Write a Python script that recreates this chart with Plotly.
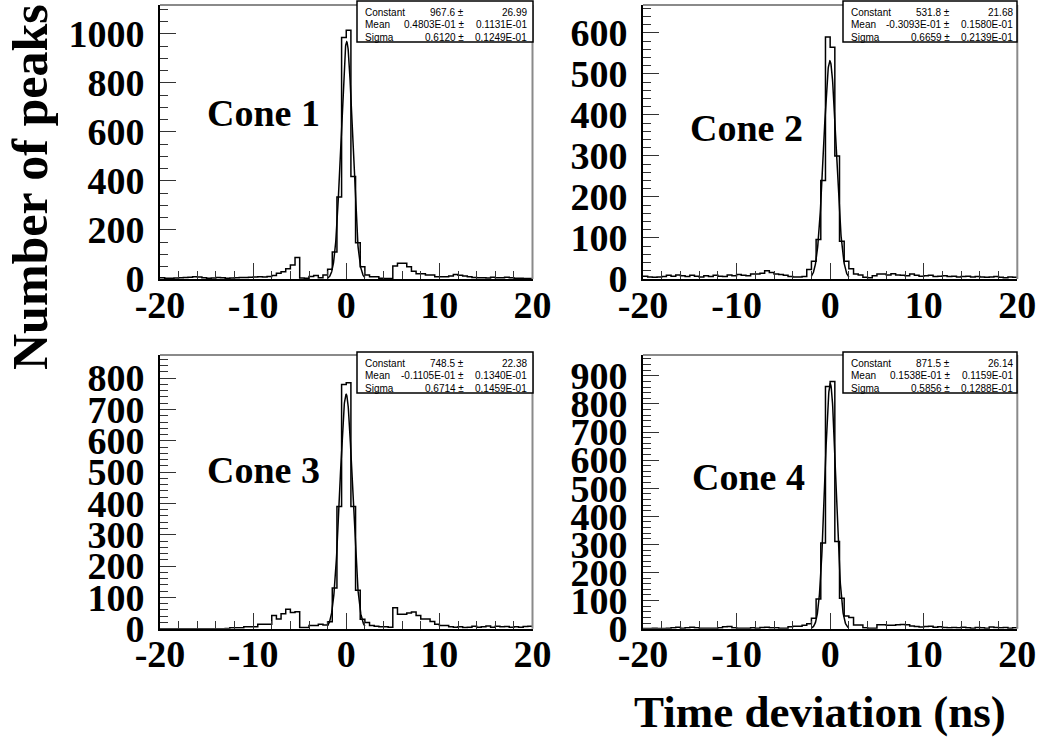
import numpy as np
import plotly.graph_objects as go

# Time-deviation histograms, 0.5 ns bins from -20 to 20 ns
bin_edges = np.arange(-20.0, 20.5, 0.5)

cone1_counts = [5, 3, 3, 4, 5, 6, 7, 9, 8, 5, 3, 4, 6, 5, 3, 4, 5, 6, 6, 7, 8, 9, 8, 10,
                14, 23, 30, 42, 57, 88,
                4, 3, 10, 14, 5,
                16, 40, 110, 335, 985, 1015, 418, 148, 50, 16,
                9, 9, 3, 2, 2, 53, 64, 64, 50, 32, 21, 21, 16, 16, 9, 9, 9, 12, 18, 15,
                12, 9, 6, 5, 5, 4, 7, 5, 5, 7, 5, 3, 3, 2, 2]
cone2_counts = [7, 5, 4, 5, 6, 9, 7, 10, 8, 6, 9, 7, 5, 8, 6, 9, 7, 6, 10, 8, 11, 9, 8, 12,
                12, 14, 20, 16, 12, 11, 9, 6, 5, 5, 6,
                23, 43, 96, 240, 590, 565, 300, 92, 43, 25,
                12, 10, 4, 3, 8, 12, 12, 10, 13, 10, 9, 8, 12, 9, 7, 8, 9, 6, 7, 8,
                6, 7, 5, 6, 7, 5, 6, 5, 4, 5, 6, 4, 3, 5, 4]
cone3_counts = [0, 0, 0, 0, 0, 0, 0, 0, 0, 0, 0, 0, 0, 0, 1,
                3, 3, 3, 6, 6, 6, 14, 14, 14,
                42, 31, 48, 62, 52, 54,
                4, 4, 10, 10, 14,
                12, 22, 130, 390, 780, 785, 390, 123, 30, 20,
                10, 8, 6, 6, 5, 67, 46, 46, 50, 53, 42, 31, 31, 23, 14, 10, 10, 6, 5, 6,
                4, 5, 8, 5, 6, 9, 5, 8, 6, 7, 5, 6, 5, 7, 8]
cone4_counts = [1, 1, 2, 1, 1, 2, 3, 5, 2, 3, 5, 3, 2, 2, 2, 2, 3, 7, 8, 3, 2, 2, 2, 3,
                2, 4, 5, 3, 3, 2, 2, 7, 9, 9, 12,
                18, 37, 106, 305, 862, 880, 310, 108, 45, 40,
                13, 13, 3, 2, 2, 14, 14, 12, 12, 14, 15, 14, 10, 8, 6, 8, 9, 5, 7, 4,
                3, 4, 3, 5, 3, 2, 4, 3, 2, 6, 4, 3, 4, 2, 3]

# Gaussian fit results (constant, mean, sigma) with errors
fit_constant = [967.6, 531.8, 748.5, 871.5]
fit_constant_err = [26.99, 21.68, 22.38, 26.14]
fit_mean = [0.4803e-01, -0.3093e-01, -0.1105e-01, 0.1538e-01]
fit_mean_err = [0.1131e-01, 0.1580e-01, 0.1340e-01, 0.1159e-01]
fit_sigma = [0.6120, 0.6659, 0.6714, 0.5856]
fit_sigma_err = [0.1249e-01, 0.2139e-01, 0.1459e-01, 0.1288e-01]
fit_range = (-2.0, 2.0)

cone_labels = ["Cone 1", "Cone 2", "Cone 3", "Cone 4"]
x_ticks = [-20, -10, 0, 10, 20]
x_tick_text = ["-20", "-10", "0", "10", "20"]
y_max = [1118, 668, 874, 974]
y_dtick = [200, 100, 100, 100]
y_minor = [50, 20, 20, 20]

W, H = 1039, 745


def px(x):
    return x / W


def py(y):
    return 1 - y / H


# panel frames in pixels: (left, right, top, bottom)
frames = [(160, 532.5, 5, 279), (643, 1017.3, 5, 279),
          (160, 532.5, 355, 628.7), (643, 1017.3, 355, 628.7)]
stat_boxes = [(357, 533, 1, 42), (843, 1017, 1, 42),
              (357, 533, 352, 393), (843, 1017, 352, 393)]
cone_pos = [(263, 113), (746, 128), (263, 470), (748, 477)]

all_counts = [cone1_counts, cone2_counts, cone3_counts, cone4_counts]

serif = "Liberation Serif"
fig = go.Figure()
layout = dict(width=W, height=H, margin=dict(l=0, r=0, t=0, b=0, pad=0),
              plot_bgcolor="white", paper_bgcolor="white", showlegend=False)
shapes = []
annotations = []


def fe(v):
    # Fortran-style E notation, e.g. 0.4803E-01
    if v == 0:
        return "0.0000E+00"
    s = "-" if v < 0 else ""
    a = abs(v)
    e = int(np.floor(np.log10(a))) + 1
    m = a / 10 ** e
    return f"{s}{m:.4f}E{e:+03d}"


for i in range(4):
    ax = "" if i == 0 else str(i + 1)
    xa, ya = "x" + ax, "y" + ax
    counts = all_counts[i]
    xs = list(bin_edges)
    ys = list(counts) + [counts[-1]]
    fig.add_trace(go.Scatter(x=xs, y=ys, mode="lines", line=dict(shape="hv", color="black", width=1.5),
                             xaxis=xa, yaxis=ya, hoverinfo="skip"))
    gx = np.linspace(fit_range[0], fit_range[1], 200)
    gy = fit_constant[i] * np.exp(-0.5 * ((gx - fit_mean[i]) / fit_sigma[i]) ** 2)
    fig.add_trace(go.Scatter(x=gx, y=gy, mode="lines", line=dict(color="black", width=1.5),
                             xaxis=xa, yaxis=ya, hoverinfo="skip"))

    l, r, t, b = frames[i]
    layout["xaxis" + ax] = dict(
        domain=[px(l), px(r)], anchor=ya, range=[-20, 20], tickvals=x_ticks, ticktext=x_tick_text,
        ticks="inside", ticklen=16, tickwidth=1, tickcolor="#333", automargin=False,
        minor=dict(ticks="inside", ticklen=8, dtick=2, tickcolor="#333", tickwidth=1),
        showline=True, linecolor="black", linewidth=2, showgrid=False, zeroline=False,
        tickfont=dict(family=serif, size=38, color="black", weight="bold"),
        ticklabelstandoff=-9)
    layout["yaxis" + ax] = dict(
        domain=[py(b), py(t)], anchor=xa, range=[0, y_max[i]], dtick=y_dtick[i], tick0=0,
        ticks="inside", ticklen=16, tickwidth=1, tickcolor="#333", automargin=False,
        minor=dict(ticks="inside", ticklen=8, dtick=y_minor[i], tickcolor="#333", tickwidth=1),
        showline=True, linecolor="black", linewidth=2, showgrid=False, zeroline=False,
        tickfont=dict(family=serif, size=38, color="black", weight="bold"),
        ticklabelstandoff=6)

    # upper and right edges of the frame
    shapes.append(dict(type="line", xref="paper", yref="paper", x0=px(l), x1=px(r), y0=py(t), y1=py(t),
                       line=dict(color="#8a8a8a", width=2)))
    shapes.append(dict(type="line", xref="paper", yref="paper", x0=px(r), x1=px(r), y0=py(b), y1=py(t),
                       line=dict(color="#8a8a8a", width=2)))

    # fit statistics box
    bl, br, bt, bb = stat_boxes[i]
    shapes.append(dict(type="rect", xref="paper", yref="paper", x0=px(bl), x1=px(br), y0=py(bb), y1=py(bt),
                       line=dict(color="black", width=1.5), fillcolor="white"))
    rows = [("Constant", f"{fit_constant[i]:.1f} \u00b1", f"{fit_constant_err[i]:.2f}"),
            ("Mean", f"{fe(fit_mean[i])} \u00b1", fe(fit_mean_err[i])),
            ("Sigma", f"{fit_sigma[i]:.4f} \u00b1", fe(fit_sigma_err[i]))]
    for j, (lab, val, err) in enumerate(rows):
        yc = bt + 11.5 + 12.3 * j
        sf = dict(family="Liberation Sans", size=10, color="black")
        annotations.append(dict(text=lab, x=px(bl + 6), y=py(yc), xref="paper", yref="paper",
                                xanchor="left", yanchor="middle", showarrow=False, font=sf))
        annotations.append(dict(text=val, x=px(bl + 109), y=py(yc), xref="paper", yref="paper",
                                xanchor="right", yanchor="middle", showarrow=False, font=sf))
        annotations.append(dict(text=err, x=px(bl + 172), y=py(yc), xref="paper", yref="paper",
                                xanchor="right", yanchor="middle", showarrow=False, font=sf))

    cx, cy = cone_pos[i]
    annotations.append(dict(text=cone_labels[i], x=px(cx), y=py(cy), xref="paper", yref="paper",
                            xanchor="center", yanchor="middle", showarrow=False,
                            font=dict(family=serif, size=38, color="black", weight="bold")))

annotations.append(dict(text="Number of peaks", x=px(30), y=py(187), xref="paper", yref="paper",
                        textangle=-90, xanchor="center", yanchor="middle", showarrow=False,
                        font=dict(family=serif, size=50, color="black", weight="bold")))
annotations.append(dict(text="Time deviation (ns)", x=px(820), y=py(712), xref="paper", yref="paper",
                        xanchor="center", yanchor="middle", showarrow=False,
                        font=dict(family=serif, size=45, color="black", weight="bold")))

layout["shapes"] = shapes
layout["annotations"] = annotations
fig.update_layout(**layout)
fig.write_html("out.html")
